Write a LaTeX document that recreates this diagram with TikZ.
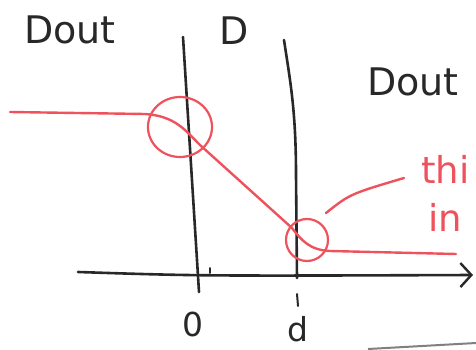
\documentclass[tikz,border=0pt]{standalone}
\usepackage{fontspec}
\setmainfont{DejaVu Sans}
\usetikzlibrary{arrows.meta,shapes.geometric}
\definecolor{pen}{RGB}{40,40,40}
\definecolor{redpen}{RGB}{238,82,92}
\begin{document}
\begin{tikzpicture}[x=1pt,y=-1pt,
  ink/.style={draw=pen,line width=2.6pt,line cap=round},
  rink/.style={draw=redpen,line width=2.4pt,line cap=round},
  blacktext/.style={text=pen,inner sep=0pt,font=\fontsize{38}{40}\selectfont},
  ticktext/.style={text=pen,inner sep=0pt,font=\fontsize{33}{35}\selectfont},
  redtext/.style={text=redpen,inner sep=0pt,font=\fontsize{37}{39}\selectfont}]
\useasboundingbox (0,0) rectangle (476,350);
\clip (0,0) rectangle (476,350);
% labels
\node[blacktext,anchor=base] (dleft) at (70,44) {Dout};
\node[blacktext,anchor=base] (dmid) at (234,45) {D};
\node[blacktext,anchor=base] (dright) at (413,96) {Dout};
\node[redtext,anchor=base west] (thi) at (421,183) {thi};
\node[redtext,anchor=base west] (in) at (428,231) {in};
\node[ticktext,anchor=base] (zero) at (193,336) {0};
\node[ticktext,anchor=base] (dd) at (298,341) {d};
% vertical walls
\coordinate (w1t) at (183,37);
\coordinate (w1b) at (199,292);
\draw[ink] (w1t) -- (w1b);
\coordinate (w2t) at (284,40);
\coordinate (w2b) at (297,278);
\draw[ink] (w2t) .. controls (290,80) and (296,110) .. (296,175) -- (w2b);
% ticks
\draw[ink,line width=2pt] (210,268) -- (210,273);
\draw[ink,line width=2pt] (297,294) -- (298,306);
% axis
\coordinate (ax0) at (78,272);
\coordinate (ax1) at (473,275);
\draw[ink,-{Straight Barb[length=11pt,width=24pt,line width=2.4pt]}] (ax0) .. controls (200,276) .. (ax1);
% red profile
\draw[rink] (10,112) -- (145,114) .. controls (175,116) and (185,130) .. (200,145) -- (292,228) .. controls (302,241) and (310,250) .. (330,251) -- (456,254);
% circles
\node[draw=redpen,line width=2.2pt,ellipse,minimum width=64pt,minimum height=60pt,inner sep=0pt] (c1) at (180,127) {};
\node[draw=redpen,line width=2.2pt,circle,minimum size=42pt,inner sep=0pt] (c2) at (307,240) {};
% connector to note
\coordinate (cs) at (326,213);
\coordinate (ce) at (404,178);
\draw[rink] (cs) .. controls (350,194) .. (ce);
% stray gray line
\coordinate (g0) at (368,349);
\coordinate (g1) at (476,343);
\draw[draw=gray,line width=2pt] (g0) -- (g1);
\end{tikzpicture}
\end{document}
